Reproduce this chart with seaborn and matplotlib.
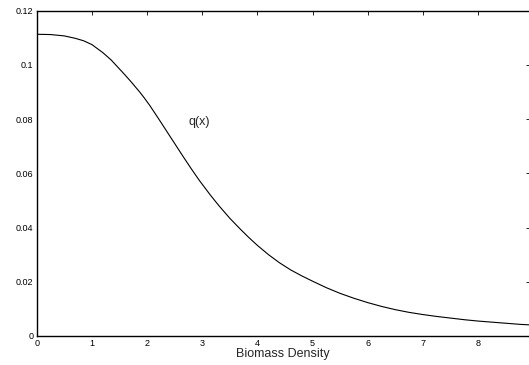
import numpy as np
import pandas as pd
import matplotlib
matplotlib.use("Agg")
import matplotlib.pyplot as plt
import seaborn as sns

# values
biomass = [0.0, 0.25, 0.5, 0.7, 0.85, 1.0, 1.1, 1.2, 1.35, 1.5, 1.6, 1.7,
           1.8, 1.87, 1.95, 2.05, 2.2, 2.35, 2.5, 2.65, 2.8, 2.95, 3.15,
           3.3, 3.5, 3.7, 3.85, 4.0, 4.2, 4.4, 4.6, 4.8, 5.0, 5.25, 5.5,
           5.75, 6.0, 6.25, 6.5, 6.75, 7.0, 7.25, 7.5, 7.75, 8.0, 8.25,
           8.5, 8.75, 8.93]
q_vals = [0.1113, 0.1112, 0.1107, 0.1098, 0.1089, 0.1075, 0.1060, 0.1045,
          0.1018, 0.0985, 0.0963, 0.0940, 0.0916, 0.0899, 0.0878, 0.0850,
          0.0804, 0.0757, 0.0710, 0.0663, 0.0617, 0.0573, 0.0519, 0.0481,
          0.0434, 0.0392, 0.0362, 0.0334, 0.0300, 0.0270, 0.0244, 0.0222,
          0.0202, 0.0178, 0.0157, 0.0139, 0.0123, 0.0109, 0.0097, 0.0087,
          0.0079, 0.0072, 0.0066, 0.0060, 0.0055, 0.0051, 0.0047, 0.0043,
          0.0041]
x_ticks = [0, 1, 2, 3, 4, 5, 6, 7, 8]
y_ticks = [0, 0.02, 0.04, 0.06, 0.08, 0.1, 0.12]
y_tick_labels = ["0", "0.02", "0.04", "0.06", "0.08", "0.1", "0.12"]

df = pd.DataFrame({"x": biomass, "q": q_vals})

sns.set_style("white")
plt.rcParams["font.family"] = ["Liberation Sans", "DejaVu Sans"]

fig = plt.figure(figsize=(5.29, 3.65), dpi=100)
ax = fig.add_axes([0.0694, 0.0795, 0.9316, 0.8912])

sns.lineplot(data=df, x="x", y="q", ax=ax, color="black", linewidth=0.8,
             sort=False, estimator=None)

ax.set_xlim(0, 8.93)
ax.set_ylim(0, 0.12)
ax.set_xticks(x_ticks)
ax.set_xticklabels([str(t) for t in x_ticks])
ax.set_yticks(y_ticks)
ax.set_yticklabels(y_tick_labels)
ax.tick_params(direction="in", length=3, width=0.6, labelsize=6.5,
               top=True, right=True, pad=2.5, colors="black")
for s in ax.spines.values():
    s.set_linewidth(1.0)
    s.set_color("black")

ax.set_xlabel("Biomass Density", fontsize=9, labelpad=0)
ax.set_ylabel("")
ax.text(2.75, 0.079, "q(x)", fontsize=9, va="center", ha="left")

fig.savefig("out.png", dpi=100)
